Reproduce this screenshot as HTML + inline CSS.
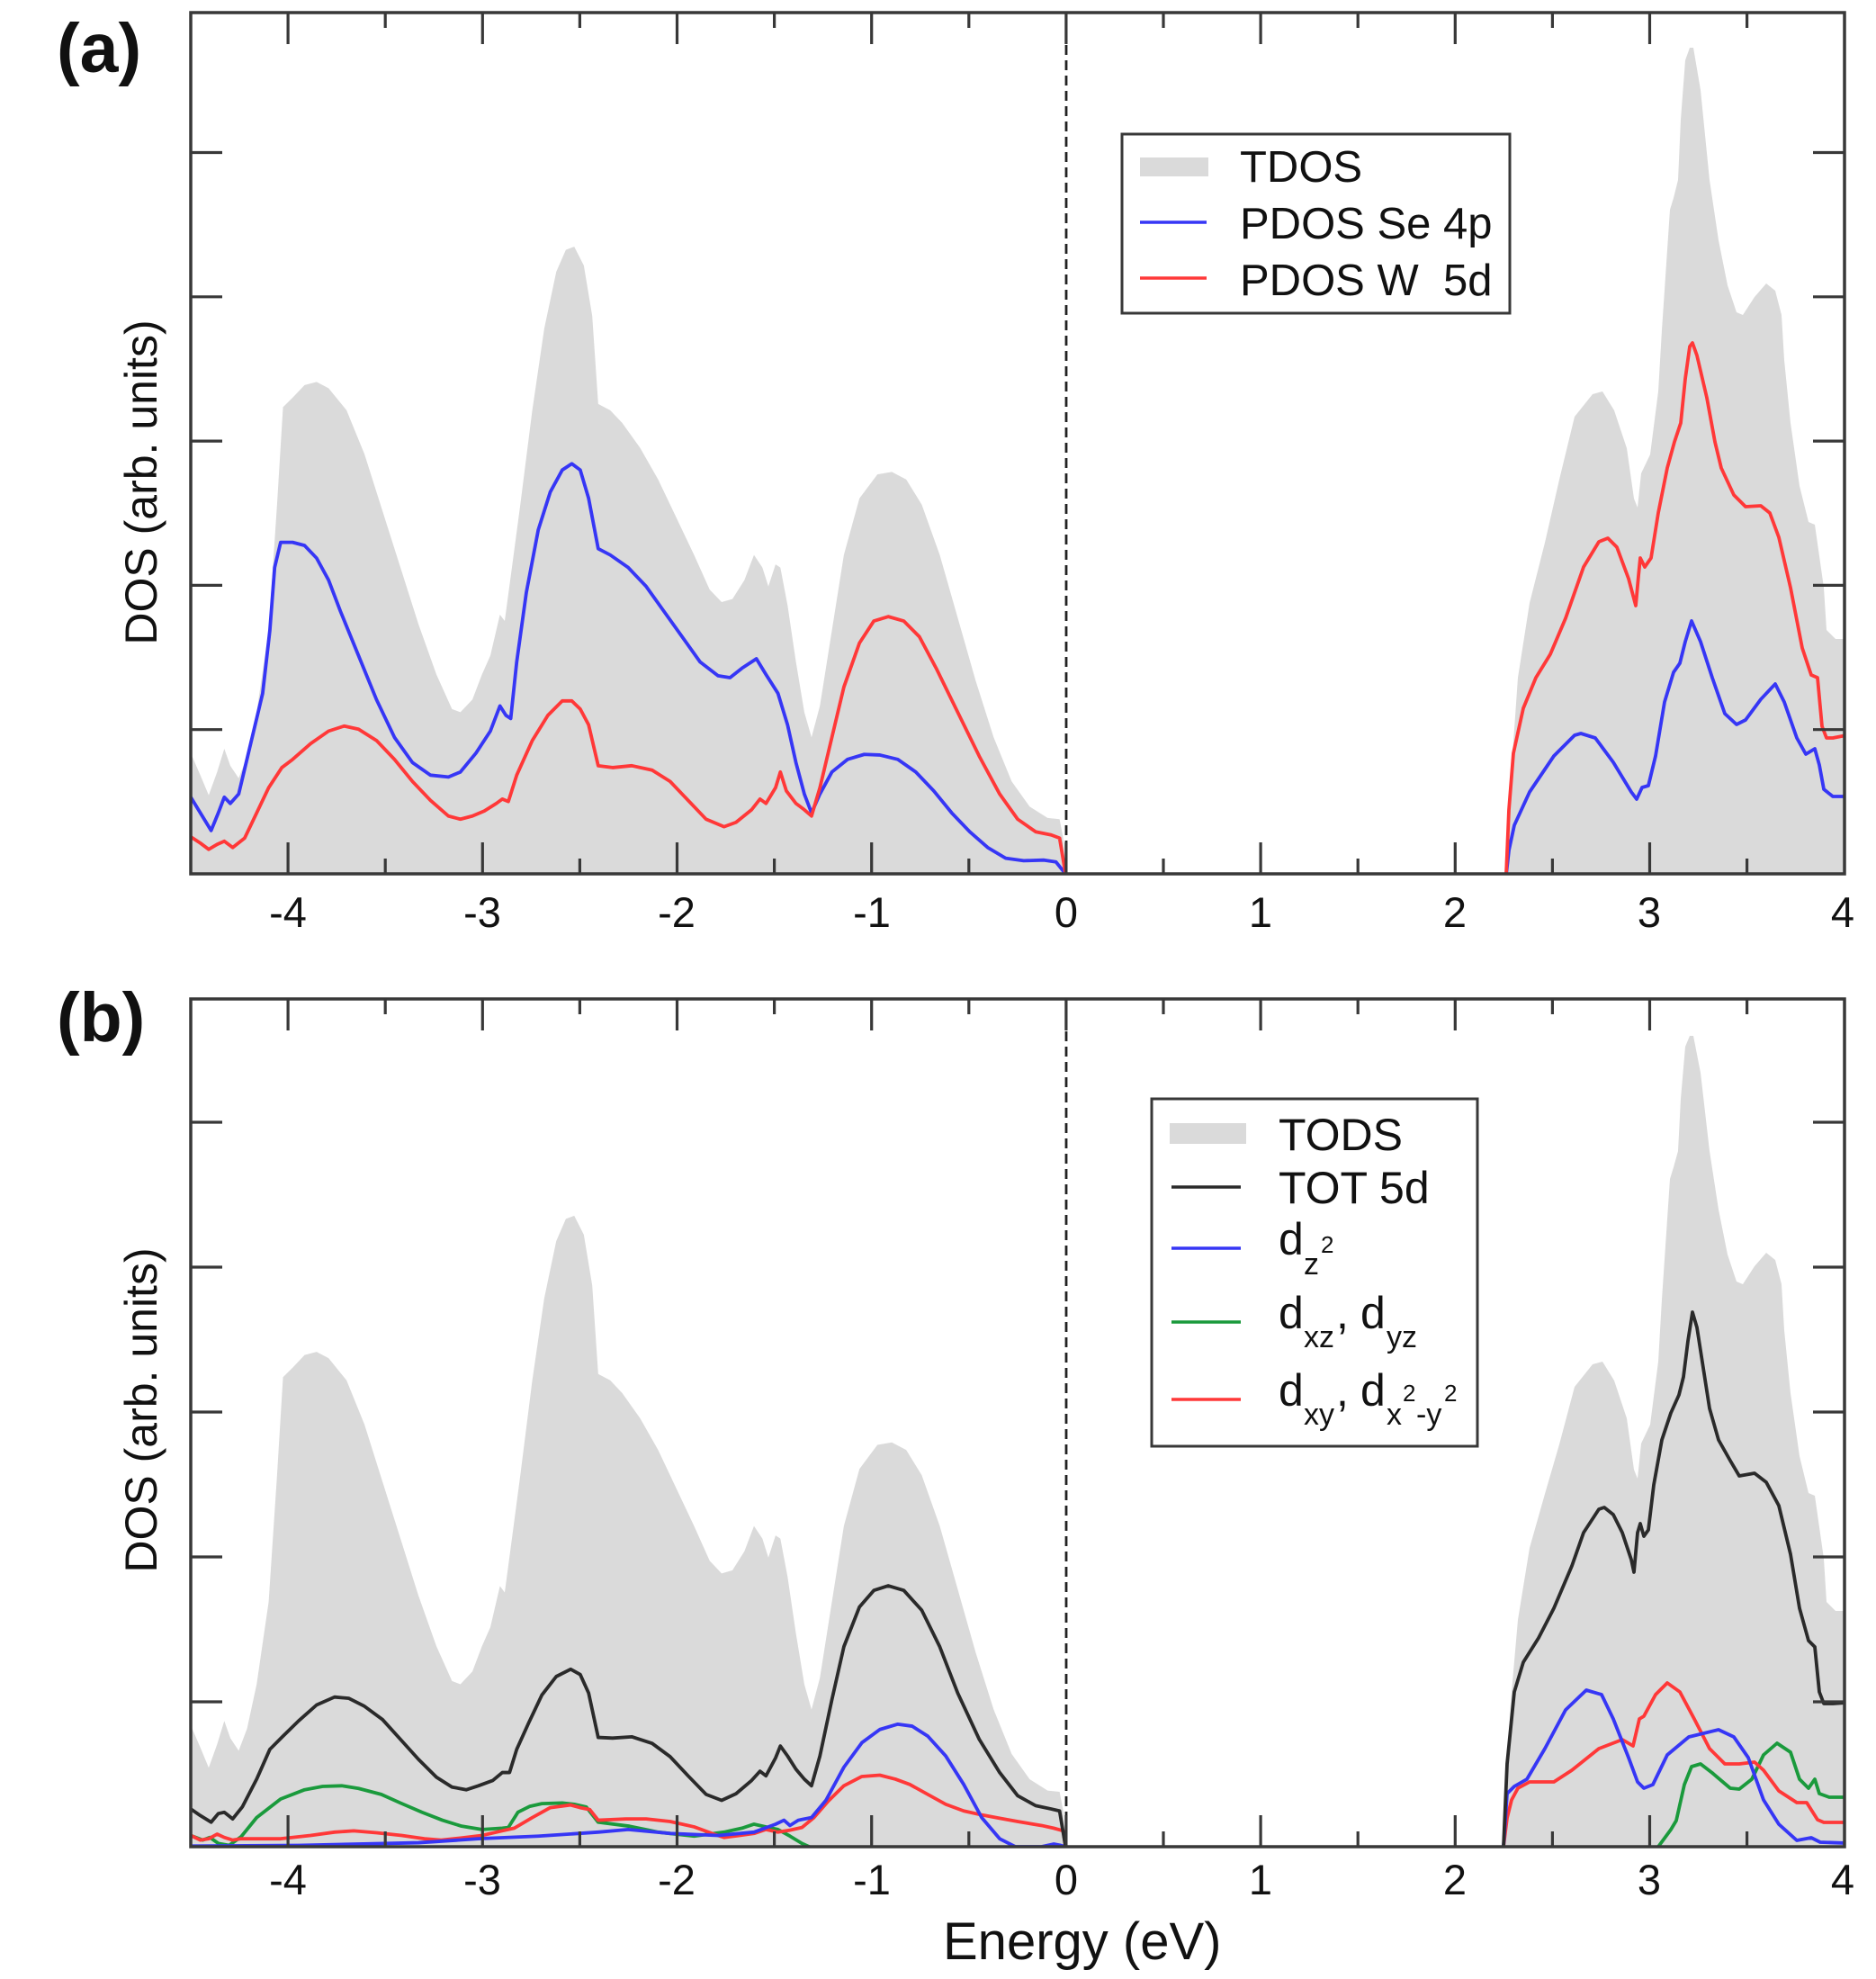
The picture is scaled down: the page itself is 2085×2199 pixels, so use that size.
<!DOCTYPE html>
<html>
<head>
<meta charset="utf-8">
<style>
html,body{margin:0;padding:0;background:#fff;overflow:hidden;}
svg{display:block;}
text{font-family:"Liberation Sans",Arial,sans-serif;fill:#111;}
.ln{fill:none;stroke-width:3.8;stroke-linejoin:round;stroke-linecap:round;}
.ns{vector-effect:non-scaling-stroke;}
</style>
</head>
<body>
<svg width="2085" height="2199" viewBox="0 0 2085 2199" xmlns="http://www.w3.org/2000/svg">
<defs>
<clipPath id="ca"><rect x="212" y="14" width="1838" height="957"/></clipPath>
<clipPath id="cb"><rect x="212" y="1110" width="1838" height="942"/></clipPath>
</defs>
<rect x="0" y="0" width="2085" height="2199" fill="#fff"/>

<!-- ================= PANEL A ================= -->
<g clip-path="url(#ca)">
  <g transform="matrix(1.3319 0 0 0.6991 -1.1 1.42)">
    <polygon fill="#dadada" points="160,1387 160,1195 168,1230 175,1262 182,1225 188,1188 193,1215 200,1235 207,1200 215,1130 225,1000 232,800 237,645 245,630 255,610 265,605 275,615 290,650 305,720 320,810 335,900 350,990 365,1070 378,1125 385,1130 395,1110 403,1070 410,1040 418,975 422,985 428,900 435,800 445,650 455,520 465,430 473,395 480,390 488,420 495,500 500,640 510,650 520,670 535,710 550,760 565,820 580,880 593,935 603,955 612,950 622,920 630,880 637,900 642,930 648,895 652,900 658,960 665,1050 672,1130 678,1170 685,1120 695,1000 705,880 718,790 733,752 745,748 757,760 770,800 785,880 800,980 815,1080 830,1170 845,1240 860,1280 875,1298 885,1300 888,1330 890,1387"/>
  </g>
  <polygon fill="#dadada" points="1672,972 1674,930 1677,895 1680,853 1687,753 1700,670 1717,603 1733,533 1750,463 1770,438 1781,435 1794,456 1808,498 1816,554 1820,564 1824,526 1834,505 1843,435 1847,367 1856,233 1860,220 1865,200 1868,133 1873,67 1878,53 1882,53 1890,100 1900,200 1910,267 1920,317 1930,347 1937,350 1950,330 1963,315 1973,323 1980,350 1983,400 1990,470 2000,540 2010,580 2017,583 2027,653 2030,700 2040,710 2052,710 2052,972"/>

  <g transform="matrix(1.3319 0 0 0.6991 -1.1 1.42)">
    <polyline class="ln ns" stroke="#3636f5" points="160,1265 168,1290 177,1318 183,1290 188,1265 193,1275 200,1260 210,1180 220,1100 226,1000 230,900 235,860 245,860 255,865 265,885 275,920 285,970 300,1040 315,1110 330,1170 345,1210 360,1230 375,1233 385,1225 398,1195 410,1160 418,1120 423,1135 427,1140 432,1050 440,940 450,840 460,780 470,745 478,735 485,745 492,790 500,870 510,880 525,900 540,930 555,970 570,1010 585,1050 600,1072 610,1075 620,1060 632,1045 640,1070 650,1100 658,1150 665,1210 672,1260 678,1290 685,1260 695,1225 708,1205 722,1197 735,1198 750,1205 765,1225 780,1255 795,1290 810,1320 825,1345 840,1362 855,1366 872,1365 882,1368 890,1387"/>
    <polyline class="ln ns" stroke="#ff3838" points="160,1328 168,1338 175,1348 182,1340 188,1335 195,1345 205,1330 215,1290 225,1250 236,1218 245,1205 260,1180 275,1160 288,1152 300,1157 315,1175 330,1205 345,1240 360,1270 375,1295 385,1300 395,1295 405,1287 415,1275 420,1268 425,1272 432,1230 445,1175 458,1135 470,1112 478,1112 485,1125 492,1150 500,1215 512,1218 528,1215 545,1222 560,1240 575,1270 590,1300 605,1312 615,1305 628,1285 635,1268 640,1275 648,1250 652,1225 657,1255 665,1275 672,1285 678,1295 685,1250 695,1170 705,1090 718,1020 730,985 742,978 755,985 768,1010 782,1060 800,1130 818,1200 835,1260 850,1300 865,1320 878,1325 885,1330 890,1387"/>
  </g>
  <polyline class="ln" stroke="#3636f5" points="1674,972 1677,945 1683,917 1700,880 1727,840 1750,817 1757,815 1773,820 1793,847 1813,880 1819,888 1825,875 1832,873 1840,840 1850,780 1860,747 1867,737 1873,713 1880,690 1890,713 1903,753 1917,793 1930,805 1940,800 1957,777 1973,760 1983,780 1997,820 2007,838 2017,832 2022,850 2027,877 2037,885 2052,885"/>
  <polyline class="ln" stroke="#ff3838" points="1674,972 1677,900 1682,837 1693,787 1707,753 1723,727 1740,687 1760,630 1777,602 1787,598 1797,608 1810,643 1818,673 1821,640 1823,620 1828,630 1835,620 1843,570 1853,520 1861,491 1868,470 1873,421 1878,385 1881,381 1886,395 1897,442 1906,491 1913,520 1927,550 1940,563 1957,562 1967,570 1977,597 1990,653 2003,720 2013,750 2020,753 2025,807 2030,820 2037,820 2052,817"/>
  <line x1="1185" y1="971" x2="1674" y2="971" stroke="#333" stroke-width="3"/>
</g>
<line x1="1185" y1="16" x2="1185" y2="970" stroke="#222" stroke-width="2.8" stroke-dasharray="11 6"/>
<rect x="212" y="14" width="1838" height="957" fill="none" stroke="#383838" stroke-width="3.5"/>
<path stroke="#383838" stroke-width="3.2" fill="none" d="
M320.1,971V936 M536.3,971V936 M752.5,971V936 M968.7,971V936 M1184.9,971V936 M1401.1,971V936 M1617.3,971V936 M1833.5,971V936
M428.2,971V954 M644.4,971V954 M860.6,971V954 M1076.8,971V954 M1293,971V954 M1509.2,971V954 M1725.4,971V954 M1941.6,971V954
M320.1,14V49 M536.3,14V49 M752.5,14V49 M968.7,14V49 M1184.9,14V49 M1401.1,14V49 M1617.3,14V49 M1833.5,14V49
M428.2,14V31 M644.4,14V31 M860.6,14V31 M1076.8,14V31 M1293,14V31 M1509.2,14V31 M1725.4,14V31 M1941.6,14V31
M212,169.5H247 M212,329.8H247 M212,490.1H247 M212,650.4H247 M212,810.7H247
M2050,169.5H2015 M2050,329.8H2015 M2050,490.1H2015 M2050,650.4H2015 M2050,810.7H2015"/>
<g font-size="47" text-anchor="middle">
<text x="320" y="1030">-4</text><text x="536" y="1030">-3</text><text x="752" y="1030">-2</text><text x="969" y="1030">-1</text>
<text x="1185" y="1030">0</text><text x="1401" y="1030">1</text><text x="1617" y="1030">2</text><text x="1833" y="1030">3</text><text x="2048" y="1030">4</text>
</g>
<text transform="translate(174,536) rotate(-90)" font-size="50" text-anchor="middle">DOS (arb. units)</text>
<text x="63" y="80" font-size="77" font-weight="bold">(a)</text>

<rect x="1247" y="149" width="431" height="199" fill="#fff" stroke="#383838" stroke-width="3"/>
<rect x="1267" y="175" width="76" height="21" fill="#dadada"/>
<line x1="1267" y1="247" x2="1341" y2="247" stroke="#3636f5" stroke-width="3.6"/>
<line x1="1267" y1="309" x2="1341" y2="309" stroke="#ff3838" stroke-width="3.6"/>
<g font-size="49">
<text x="1378" y="202">TDOS</text>
<text x="1378" y="265">PDOS Se 4p</text>
<text x="1378" y="328" xml:space="preserve">PDOS W  5d</text>
</g>

<!-- ================= PANEL B ================= -->
<g clip-path="url(#cb)">
  <g transform="matrix(1 0 0 1.00625 0 1075.1)">
    <g transform="matrix(1.3319 0 0 0.6991 -1.1 1.42)">
      <polygon fill="#dadada" points="160,1387 160,1195 168,1230 175,1262 182,1225 188,1188 193,1215 200,1235 207,1200 215,1130 225,1000 232,800 237,645 245,630 255,610 265,605 275,615 290,650 305,720 320,810 335,900 350,990 365,1070 378,1125 385,1130 395,1110 403,1070 410,1040 418,975 422,985 428,900 435,800 445,650 455,520 465,430 473,395 480,390 488,420 495,500 500,640 510,650 520,670 535,710 550,760 565,820 580,880 593,935 603,955 612,950 622,920 630,880 637,900 642,930 648,895 652,900 658,960 665,1050 672,1130 678,1170 685,1120 695,1000 705,880 718,790 733,752 745,748 757,760 770,800 785,880 800,980 815,1080 830,1170 845,1240 860,1280 875,1298 885,1300 888,1330 890,1387"/>
    </g>
  </g>
  <polygon fill="#dadada" points="1672,2052 1675,1950 1680,1880 1687,1800 1700,1720 1717,1660 1733,1605 1750,1541 1770,1516 1781,1513 1794,1534 1808,1576 1816,1633 1820,1643 1824,1604 1834,1583 1843,1513 1847,1444 1856,1310 1860,1297 1865,1279 1868,1221 1873,1163 1878,1151 1882,1151 1890,1192 1900,1279 1910,1344 1920,1394 1930,1424 1937,1427 1950,1407 1963,1392 1973,1400 1980,1427 1983,1478 1990,1548 2000,1618 2010,1659 2017,1662 2027,1732 2030,1780 2040,1790 2052,1790 2052,2052"/>

  <g transform="matrix(1.3319 0 0 0.7359 -1.1 1049.7)">
    <polyline class="ln ns" stroke="#1a9a3c" points="160,1345 170,1352 176,1348 183,1357 192,1360 202,1347 215,1318 235,1290 255,1276 270,1271 286,1270 300,1274 319,1283 335,1296 353,1310 370,1322 386,1331 403,1336 420,1334 425,1333 433,1310 443,1301 453,1297 470,1296 480,1298 490,1302 500,1325 526,1331 550,1340 580,1346 605,1340 620,1334 630,1328 640,1332 650,1336 660,1346 670,1357 676,1362"/>
    <polyline class="ln ns" stroke="#ff3838" points="160,1345 168,1352 175,1350 182,1343 188,1348 195,1352 202,1350 235,1350 260,1345 280,1340 296,1338 315,1341 336,1345 355,1350 369,1352 385,1349 403,1345 420,1338 430,1334 445,1318 460,1303 477,1299 485,1303 493,1306 500,1322 523,1320 540,1320 560,1324 580,1332 595,1342 605,1348 618,1345 630,1342 640,1336 650,1340 660,1337 670,1333 680,1318 692,1293 705,1270 720,1256 735,1254 748,1260 760,1268 775,1283 790,1298 805,1308 820,1314 835,1319 850,1324 870,1330 880,1334 888,1338 890,1362"/>
    <polyline class="ln ns" stroke="#3636f5" points="160,1361 250,1360 300,1358 350,1356 400,1350 450,1346 500,1340 525,1336 560,1342 600,1345 630,1340 648,1328 655,1322 660,1330 667,1322 678,1318 690,1292 705,1242 720,1205 735,1185 750,1177 762,1180 775,1195 790,1225 805,1268 820,1318 835,1350 848,1362 870,1362 880,1358 886,1360 890,1362"/>
    <polyline class="ln ns" stroke="#2a2a2a" points="160,1305 168,1315 177,1325 183,1312 188,1310 195,1320 203,1302 215,1260 226,1215 237,1195 250,1172 265,1148 280,1136 292,1138 305,1150 320,1170 335,1200 350,1230 365,1257 378,1272 390,1276 400,1270 412,1262 420,1250 426,1250 432,1215 442,1175 453,1133 465,1105 477,1094 485,1102 492,1130 500,1197 512,1198 528,1196 545,1206 560,1226 575,1255 590,1283 603,1292 615,1282 628,1262 635,1248 640,1255 648,1228 652,1210 658,1225 665,1245 672,1260 678,1270 685,1225 695,1140 705,1060 718,1000 730,975 742,968 755,975 770,1005 785,1060 800,1130 818,1200 835,1250 850,1285 865,1300 878,1305 885,1308 890,1362"/>
  </g>
  <polyline class="ln" stroke="#1a9a3c" points="1843,2052 1857,2033 1863,2023 1872,1983 1880,1963 1890,1960 1903,1970 1923,1987 1933,1988 1947,1977 1960,1950 1975,1937 1990,1947 2000,1977 2010,1987 2017,1977 2022,1993 2033,1997 2052,1997"/>
  <polyline class="ln" stroke="#ff3838" points="1671,2052 1675,2020 1680,2000 1687,1987 1700,1980 1727,1980 1747,1967 1777,1943 1803,1933 1815,1940 1822,1910 1827,1907 1840,1883 1853,1870 1867,1880 1883,1910 1900,1943 1917,1960 1933,1960 1950,1958 1960,1967 1977,1990 1997,2003 2008,2003 2020,2022 2027,2025 2052,2025"/>
  <polyline class="ln" stroke="#3636f5" points="1671,2052 1675,1993 1683,1985 1697,1977 1717,1943 1740,1900 1763,1878 1780,1883 1793,1910 1810,1953 1820,1980 1827,1987 1837,1983 1853,1950 1877,1930 1910,1922 1927,1930 1943,1953 1960,2000 1977,2027 1997,2045 2013,2042 2023,2047 2052,2048"/>
  <polyline class="ln" stroke="#2a2a2a" points="1671,2052 1675,1960 1683,1880 1693,1847 1710,1820 1727,1787 1747,1740 1760,1703 1777,1677 1783,1675 1793,1683 1803,1703 1813,1733 1816,1747 1820,1703 1823,1693 1827,1707 1832,1700 1838,1650 1847,1600 1857,1570 1866,1550 1871,1530 1876,1490 1881,1458 1886,1475 1893,1520 1900,1565 1910,1600 1923,1623 1933,1640 1950,1637 1963,1647 1977,1673 1990,1727 2000,1787 2010,1823 2017,1830 2022,1880 2027,1893 2037,1893 2052,1892"/>
  <line x1="1185" y1="2052" x2="1672" y2="2052" stroke="#333" stroke-width="3"/>
</g>
<line x1="1185" y1="1112" x2="1185" y2="2051" stroke="#222" stroke-width="2.8" stroke-dasharray="11 6"/>
<rect x="212" y="1110" width="1838" height="942" fill="none" stroke="#383838" stroke-width="3.5"/>
<path stroke="#383838" stroke-width="3.2" fill="none" d="
M320.1,2052V2017 M536.3,2052V2017 M752.5,2052V2017 M968.7,2052V2017 M1184.9,2052V2017 M1401.1,2052V2017 M1617.3,2052V2017 M1833.5,2052V2017
M428.2,2052V2035 M644.4,2052V2035 M860.6,2052V2035 M1076.8,2052V2035 M1293,2052V2035 M1509.2,2052V2035 M1725.4,2052V2035 M1941.6,2052V2035
M320.1,1110V1145 M536.3,1110V1145 M752.5,1110V1145 M968.7,1110V1145 M1184.9,1110V1145 M1401.1,1110V1145 M1617.3,1110V1145 M1833.5,1110V1145
M428.2,1110V1127 M644.4,1110V1127 M860.6,1110V1127 M1076.8,1110V1127 M1293,1110V1127 M1509.2,1110V1127 M1725.4,1110V1127 M1941.6,1110V1127
M212,1247H247 M212,1408H247 M212,1569H247 M212,1730H247 M212,1891H247
M2050,1247H2015 M2050,1408H2015 M2050,1569H2015 M2050,1730H2015 M2050,1891H2015"/>
<g font-size="47" text-anchor="middle">
<text x="320" y="2105">-4</text><text x="536" y="2105">-3</text><text x="752" y="2105">-2</text><text x="969" y="2105">-1</text>
<text x="1185" y="2105">0</text><text x="1401" y="2105">1</text><text x="1617" y="2105">2</text><text x="1833" y="2105">3</text><text x="2048" y="2105">4</text>
</g>
<text transform="translate(174,1567) rotate(-90)" font-size="50" text-anchor="middle">DOS (arb. units)</text>
<text x="63" y="1157" font-size="77" font-weight="bold">(b)</text>
<text x="1048" y="2177" font-size="58">Energy (eV)</text>

<rect x="1280" y="1221" width="362" height="386" fill="#fff" stroke="#383838" stroke-width="3"/>
<rect x="1300" y="1248" width="85" height="23" fill="#dadada"/>
<line x1="1302" y1="1319" x2="1379" y2="1319" stroke="#2a2a2a" stroke-width="3.6"/>
<line x1="1302" y1="1387" x2="1379" y2="1387" stroke="#3636f5" stroke-width="3.6"/>
<line x1="1302" y1="1469" x2="1379" y2="1469" stroke="#1a9a3c" stroke-width="3.6"/>
<line x1="1302" y1="1555" x2="1379" y2="1555" stroke="#ff3838" stroke-width="3.6"/>
<text x="1421" y="1278" font-size="50">TODS</text>
<text x="1421" y="1337" font-size="50">TOT 5d</text>
<text font-size="50"><tspan x="1421" y="1394">d</tspan><tspan x="1449" y="1416" font-size="34">z</tspan><tspan x="1468" y="1392" font-size="26">2</tspan></text>
<text font-size="50"><tspan x="1421" y="1476">d</tspan><tspan x="1449" y="1497" font-size="34">xz</tspan><tspan x="1485" y="1476">,</tspan><tspan x="1512" y="1476">d</tspan><tspan x="1541" y="1497" font-size="34">yz</tspan></text>
<text font-size="50"><tspan x="1421" y="1562">d</tspan><tspan x="1449" y="1583" font-size="34">xy</tspan><tspan x="1485" y="1562">,</tspan><tspan x="1512" y="1562">d</tspan><tspan x="1541" y="1583" font-size="34">x</tspan><tspan x="1559" y="1557" font-size="26">2</tspan><tspan x="1574" y="1583" font-size="34">-y</tspan><tspan x="1605" y="1557" font-size="26">2</tspan></text>
</svg>
</body>
</html>
